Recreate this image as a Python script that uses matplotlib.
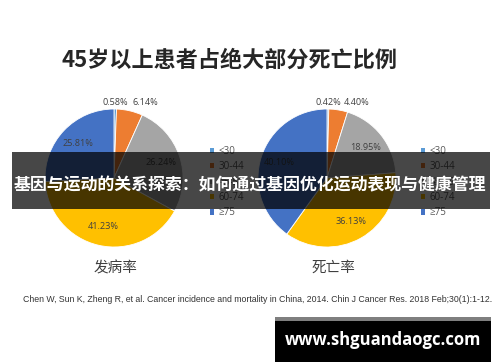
import matplotlib.pyplot as plt
import numpy as np
from matplotlib.patches import Rectangle

plt.rcParams['font.family'] = ['Noto Sans CJK SC', 'DejaVu Sans']

# data
age_groups = ['<30', '30-44', '45-59', '60-74', '≥75']
incidence = [0.58, 6.14, 26.24, 41.23, 25.81]
mortality = [0.42, 4.40, 18.95, 36.13, 40.10]
colors = ['#5B9BD5', '#ED7D31', '#A5A5A5', '#FFC000', '#4472C4']
title = '45岁以上患者占绝大部分死亡比例'
captions = ['发病率', '死亡率']
citation = ('Chen W, Sun K, Zheng R, et al. Cancer incidence and mortality in China, 2014. '
            'Chin J Cancer Res. 2018 Feb;30(1):1-12.')
banner = '基因与运动的关系探索：如何通过基因优化运动表现与健康管理'
site = 'www.shguandaogc.com'

W, H = 500, 362
fig = plt.figure(figsize=(W / 100, H / 100), dpi=100)
fig.patch.set_facecolor('white')


def px(x, y):
    # pixel (from top-left) -> figure fraction
    return x / W, 1 - y / H


def draw_pie(values, cx, cy, r, outside_dx):
    ax = fig.add_axes([(cx - r) / W, (H - cy - r) / H, 2 * r / W, 2 * r / H])
    wedges, texts, autotexts = ax.pie(
        values, colors=colors, startangle=90, counterclock=False,
        autopct=lambda p: '%.2f%%' % p, pctdistance=0.72,
        wedgeprops=dict(edgecolor='white', linewidth=0.6),
        textprops=dict(fontsize=6.6, color='#404040', family=['Open Sans', 'DejaVu Sans']))
    ax.set_xlim(-1, 1)
    ax.set_ylim(-1, 1)
    ax.set_aspect('equal')
    # small slices: labels go above the pie
    for i, t in enumerate(autotexts[:2]):
        w = wedges[i]
        mid = np.deg2rad((w.theta1 + w.theta2) / 2)
        t.set_position((np.cos(mid) * 1.09 + outside_dx[i], 1.09))
        t.set_clip_on(False)
    return ax, wedges


ax1, w1 = draw_pie(incidence, 114, 178, 69, [0.0, 0.2])
ax2, w2 = draw_pie(mortality, 327, 178, 69, [0.0, 0.25])

for wedges, lx in [(w1, 205), (w2, 416)]:
    leg = fig.legend(wedges, age_groups, loc='upper left', bbox_to_anchor=px(lx, 141),
                     frameon=False, handlelength=0.45, handleheight=0.45,
                     handletextpad=0.45, labelspacing=0.45, borderpad=0,
                     labelcolor='#595959',
                     prop={'family': ['Open Sans', 'DejaVu Sans'], 'size': 7})
    leg.set_zorder(1)
    for h in leg.legend_handles:
        h.set_edgecolor('none')

fig.text(*px(230, 60), title, fontsize=15.9, fontweight='bold', color='#262626',
         ha='center', va='center')
fig.text(*px(115, 268), captions[0], fontsize=10.5, color='#404040', ha='center', va='center')
fig.text(*px(333, 268), captions[1], fontsize=10.5, color='#404040', ha='center', va='center')
fig.text(*px(258, 300), citation, fontsize=6.3, color='#333333', ha='center', va='center',
         family=['Liberation Sans', 'DejaVu Sans'])

# dark banner over the middle
fig.patches.append(Rectangle(px(12, 209), 478 / W, 57 / H, transform=fig.transFigure,
                             facecolor='black', alpha=0.72, edgecolor='none', zorder=5))
fig.text(*px(250, 185), banner, fontsize=12.2, fontweight='bold', color='white',
         ha='center', va='center', zorder=6)

# site box bottom right
fig.patches.append(Rectangle(px(275, 362), 216 / W, 45 / H, transform=fig.transFigure,
                             facecolor='#7f7f7f', edgecolor='none', zorder=5))
fig.patches.append(Rectangle(px(275, 362), 216 / W, 41 / H, transform=fig.transFigure,
                             facecolor='black', edgecolor='none', zorder=5))
fig.text(*px(383, 340), site, fontsize=12, fontweight='bold', color='white',
         ha='center', va='center', family=['Open Sans', 'DejaVu Sans'], zorder=6)

fig.savefig('out.png', dpi=100)
